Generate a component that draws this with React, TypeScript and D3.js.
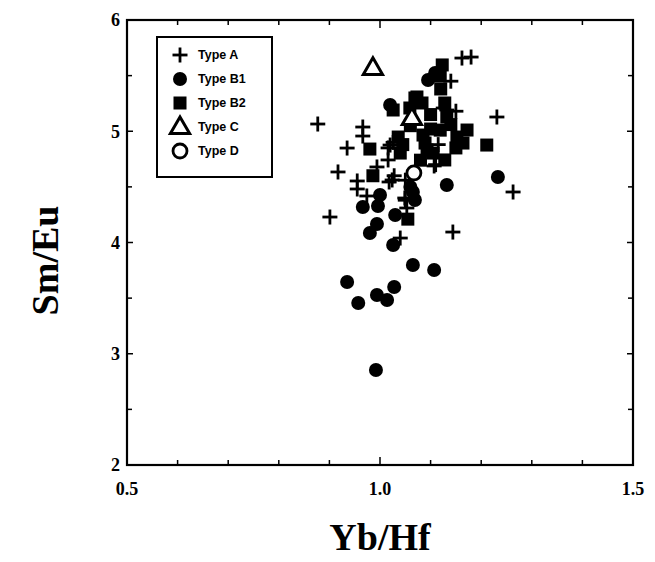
import React from "react";
import * as d3 from "d3";

const typeA: [number, number][] = [
  [0.877, 5.065], [0.935, 4.849], [0.966, 5.038], [0.966, 4.957], [0.917, 4.634],
  [0.955, 4.553], [0.955, 4.481], [0.974, 4.418], [0.901, 4.229], [0.994, 4.679],
  [1.018, 4.544], [1.02, 4.876], [1.016, 4.742], [1.024, 4.562], [1.049, 4.4],
  [1.053, 4.31], [1.04, 4.04], [1.144, 4.094], [1.263, 4.454], [1.231, 5.128],
  [1.162, 5.658], [1.18, 5.667], [1.107, 4.688], [1.125, 5.209], [1.132, 5.191],
  [1.14, 5.45], [1.026, 4.9], [1.016, 4.85], [1.028, 4.6], [1.05, 4.56],
  [1.05, 4.38], [1.11, 4.7], [1.115, 4.88], [1.15, 5.18],
];
const typeB1: [number, number][] = [
  [0.992, 2.854], [0.935, 3.645], [0.957, 3.456], [0.994, 3.528], [1.014, 3.483],
  [1.028, 3.6], [1.065, 3.798], [1.107, 3.753], [0.98, 4.085], [0.994, 4.166],
  [1.026, 3.978], [0.966, 4.319], [0.996, 4.328], [1.03, 4.247], [1.0, 4.427],
  [1.132, 4.517], [1.233, 4.589], [1.065, 4.454], [1.069, 4.382], [1.095, 5.461],
  [1.109, 5.524], [1.02, 5.236], [1.06, 4.5],
];
const typeB2: [number, number][] = [
  [1.211, 4.876], [1.055, 4.21], [0.98, 4.84], [0.986, 4.6], [1.123, 5.596],
  [1.119, 5.497], [1.172, 5.011], [1.164, 4.894], [1.128, 5.254], [1.132, 5.128],
  [1.073, 5.308], [1.083, 5.254], [1.059, 5.209], [1.036, 4.948], [1.04, 4.804],
  [1.089, 4.894], [1.105, 4.804], [1.128, 4.742], [1.085, 4.966], [1.093, 4.831],
  [1.152, 4.948], [1.026, 5.191], [1.069, 5.299], [1.119, 5.01], [1.15, 4.85],
  [1.06, 5.05], [1.1, 5.02], [1.14, 5.06], [1.045, 4.88], [1.08, 4.74],
  [1.1, 5.15], [1.12, 5.38],
];
const typeC: [number, number][] = [[0.986, 5.569], [1.063, 5.119]];
const typeD: [number, number][] = [[1.067, 4.625]];

const xTickLabels = [0.5, 1.0, 1.5];
const yTickLabels = [2, 3, 4, 5, 6];
const legendLabels = ["Type A", "Type B1", "Type B2", "Type C", "Type D"];

const L = 127, R = 633, T = 20, B = 465;
const x = d3.scaleLinear().domain([0.5, 1.5]).range([L, R]);
const y = d3.scaleLinear().domain([2, 6]).range([B, T]);

type Kind = "A" | "B1" | "B2" | "C" | "D";
function Marker({ kind, cx, cy }: { kind: Kind; cx: number; cy: number }) {
  if (kind === "A") {
    return (
      <g stroke="#000" strokeWidth={2.8}>
        <line x1={cx - 7.5} x2={cx + 7.5} y1={cy} y2={cy} />
        <line x1={cx} x2={cx} y1={cy - 7.5} y2={cy + 7.5} />
      </g>
    );
  }
  if (kind === "B1") return <circle cx={cx} cy={cy} r={7} fill="#000" />;
  if (kind === "B2") return <rect x={cx - 6.5} y={cy - 6.5} width={13} height={13} fill="#000" />;
  if (kind === "C") {
    const tri = d3.symbol().type(d3.symbolTriangle).size(160)();
    return <path d={tri || ""} transform={`translate(${cx},${cy + 1})`} fill="#fff" stroke="#000" strokeWidth={3} strokeLinejoin="miter" />;
  }
  return <circle cx={cx} cy={cy} r={7} fill="#fff" stroke="#000" strokeWidth={2.8} />;
}

export default function App() {
  const xMinor = d3.range(0.6, 1.45, 0.1);
  const yMinor = d3.range(2.5, 6, 0.5);
  const series: [Kind, [number, number][]][] = [
    ["A", typeA], ["B1", typeB1], ["B2", typeB2], ["C", typeC], ["D", typeD],
  ];
  const legendKinds: Kind[] = ["A", "B1", "B2", "C", "D"];
  return (
    <svg width={647} height={554} style={{ display: "block" }} viewBox="8 8 647 554">
      <rect x={0} y={0} width={655} height={562} fill="#fff" />
      <g stroke="#000" strokeWidth={1.5}>
        {xMinor.map((v, i) => {
          const len = Math.abs(v - 1.0) < 1e-6 ? 8 : 5;
          return (
            <g key={"xt" + i}>
              <line x1={x(v)} x2={x(v)} y1={B} y2={B - len} />
              <line x1={x(v)} x2={x(v)} y1={T} y2={T + len} />
            </g>
          );
        })}
        {yMinor.map((v, i) => {
          const len = Number.isInteger(v) ? 6 : 5;
          return (
            <g key={"yt" + i}>
              <line x1={L} x2={L + len} y1={y(v)} y2={y(v)} />
              <line x1={R} x2={R - len} y1={y(v)} y2={y(v)} />
            </g>
          );
        })}
      </g>
      <rect x={L} y={T} width={R - L} height={B - T} fill="none" stroke="#000" strokeWidth={2.2} />
      <g fontFamily="'Liberation Serif', 'DejaVu Serif', serif" fontWeight="bold" fontSize={18} fill="#000">
        {yTickLabels.map((v) => (
          <text key={"yl" + v} x={L - 7} y={y(v)} dy="0.35em" textAnchor="end">{v}</text>
        ))}
        {xTickLabels.map((v) => (
          <text key={"xl" + v} x={x(v)} y={B + 30} textAnchor="middle">{v.toFixed(1)}</text>
        ))}
      </g>
      <g fontFamily="'Liberation Serif', 'DejaVu Serif', serif" fontWeight="bold" fontSize={38} fill="#000">
        <text x={380} y={550} textAnchor="middle">Yb/Hf</text>
        <text transform={`translate(58,${(T + B) / 2 + 18}) rotate(-90)`} textAnchor="middle">Sm/Eu</text>
      </g>
      {series.map(([k, pts]) => (
        <g key={k}>
          {pts.map((p, i) => (
            <Marker key={i} kind={k} cx={x(p[0])} cy={y(p[1])} />
          ))}
        </g>
      ))}
      <rect x={157} y={37} width={115} height={140} fill="#fff" stroke="#000" strokeWidth={2} />
      {legendLabels.map((lab, i) => {
        const cy = 55 + i * 24;
        return (
          <g key={lab}>
            <Marker kind={legendKinds[i]} cx={180} cy={cy} />
            <text x={198} y={cy} dy="0.35em" fontFamily="'Liberation Sans', Arial, sans-serif" fontWeight="bold" fontSize={12.5} fill="#000">{lab}</text>
          </g>
        );
      })}
    </svg>
  );
}
